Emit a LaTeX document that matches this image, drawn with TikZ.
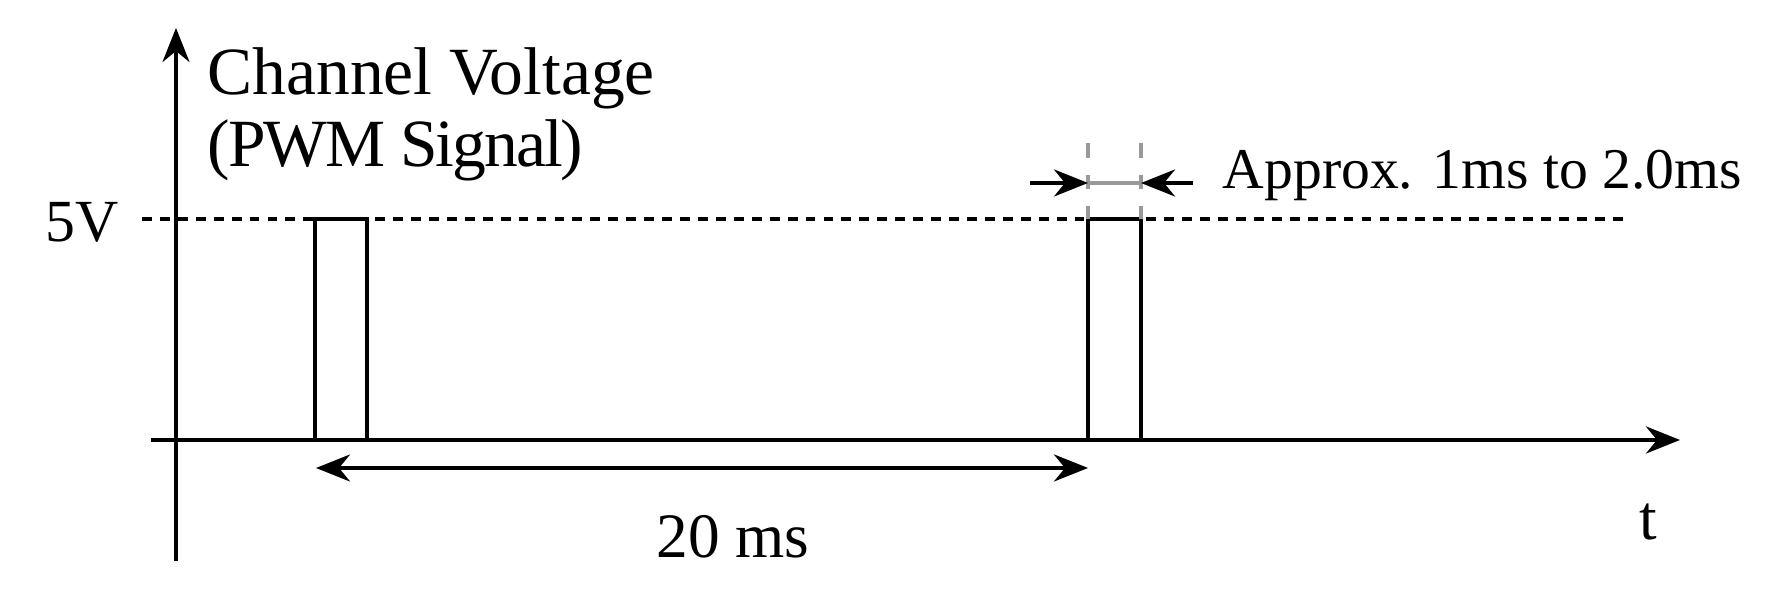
\documentclass[tikz,border=0pt]{standalone}
\usepackage{fontspec}
\setmainfont{Liberation Serif}
\usetikzlibrary{arrows.meta}

\begin{document}
\begin{tikzpicture}[x=0.01cm,y=-0.01cm,
    axis/.style={line width=1.1pt,-{Stealth[length=3.4mm,width=2.7mm,inset=1.1mm]}},
    pulse/.style={line width=1.1pt},
    level/.style={line width=1pt,dash pattern=on 2.8pt off 2.3pt},
    guide/.style={gray!80,line width=0.9pt},
    width/.style={line width=1.1pt,-{Stealth[length=3.4mm,width=2.7mm,inset=1.1mm]}},
    lbl/.style={inner sep=0pt,anchor=base west}]
    \useasboundingbox (0,0) rectangle (1776,592);
    % axes
    \coordinate (ybot) at (176,561);
    \coordinate (ytop) at (176,28);
    \coordinate (xleft) at (151,440);
    \coordinate (xright) at (1680,440);
    \draw [axis] (ybot) -- (ytop);
    \draw [axis] (xleft) -- (xright);
    % 5V level
    \coordinate (lvla) at (142,219);
    \coordinate (lvlb) at (1626,219);
    \draw [level] (lvla) -- (lvlb);
    % pulses
    \foreach \i/\xa/\xb in {1/315/367,2/1088/1141} {
        \coordinate (p\i a) at (\xa,440);
        \coordinate (p\i b) at (\xa,219);
        \coordinate (p\i c) at (\xb,219);
        \coordinate (p\i d) at (\xb,440);
        \draw [pulse] (p\i a) -- (p\i b) -- (p\i c) -- (p\i d);
    }
    % period
    \coordinate (pera) at (316,468);
    \coordinate (perb) at (1088,468);
    \draw [line width=1.1pt,{Stealth[length=3.4mm,width=2.7mm,inset=1.1mm]}-{Stealth[length=3.4mm,width=2.7mm,inset=1.1mm]}] (pera) -- (perb);
    % pulse width
    \coordinate (gla) at (1088,143);
    \coordinate (glb) at (1088,219);
    \coordinate (gra) at (1141,143);
    \coordinate (grb) at (1141,219);
    \draw [guide,dash pattern=on 4.2pt off 4.8pt] (gla) -- (glb);
    \draw [guide,dash pattern=on 4.2pt off 4.8pt] (gra) -- (grb);
    \coordinate (wl) at (1088,183);
    \coordinate (wr) at (1141,183);
    \coordinate (wla) at (1030,183);
    \coordinate (wrb) at (1193,183);
    \draw [guide] (wl) -- (wr);
    \draw [width] (wla) -- (wl);
    \draw [width] (wrb) -- (wr);
    % labels
    \node [lbl,font=\fontsize{19.2}{23}\selectfont] (title) at (207,95) {Channel Voltage};
    \node [lbl,font=\fontsize{19.2}{23}\selectfont\addfontfeature{LetterSpace=-3}] (sub) at (207,167) {(PWM Signal)};
    \node [lbl,font=\fontsize{17}{20}\selectfont] (five) at (45,242) {5V};
    \node [lbl,font=\fontsize{16.4}{19}\selectfont] (approx) at (1222,189) {Approx. 1ms to 2.0ms};
    \node [inner sep=0pt,anchor=base,font=\fontsize{18}{21}\selectfont] (per) at (733,558) {20 ms};
    \node [inner sep=0pt,anchor=base,font=\fontsize{18}{21}\selectfont] (t) at (1648,540) {t};
\end{tikzpicture}
\end{document}
